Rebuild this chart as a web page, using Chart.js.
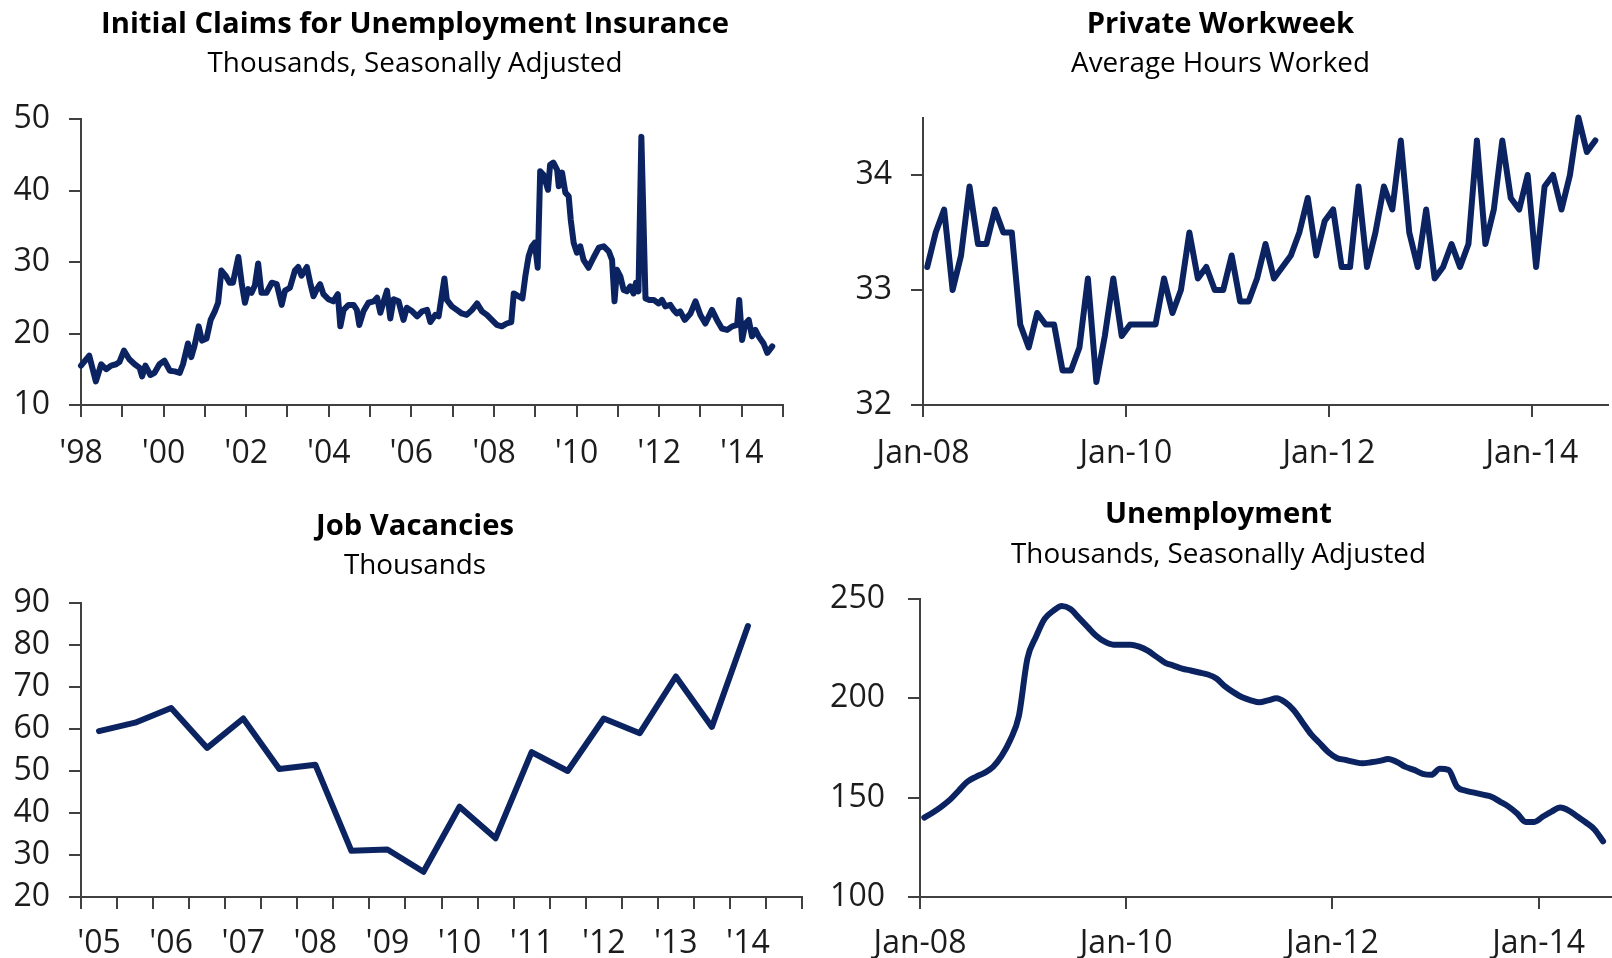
<!DOCTYPE html>
<html>
<head>
<meta charset="utf-8">
<title>Labour market indicators</title>
<script src="https://cdn.jsdelivr.net/npm/chart.js@4.4.1/dist/chart.umd.min.js"></script>
<style>
  html, body { margin: 0; padding: 0; background: #fff; overflow: hidden; width: 1612px; height: 958px; }
  .panel { position: absolute; }
</style>
</head>
<body>
<div class="panel" style="left:0;top:0"><canvas id="claims" width="806" height="479"></canvas></div>
<div class="panel" style="left:806px;top:0"><canvas id="workweek" width="806" height="479"></canvas></div>
<div class="panel" style="left:0;top:479px"><canvas id="vacancies" width="806" height="479"></canvas></div>
<div class="panel" style="left:806px;top:479px"><canvas id="unemployment" width="812" height="479"></canvas></div>
<script>
// Initial claims, thousands (readings taken along the weekly series)
var claimsYear = [
  1998.00, 1998.20, 1998.36, 1998.49, 1998.61, 1998.73, 1998.85, 1998.93, 1999.04, 1999.17,
  1999.30, 1999.42, 1999.48, 1999.56, 1999.68, 1999.78, 1999.90, 2000.02, 2000.15, 2000.27,
  2000.39, 2000.47, 2000.59, 2000.67, 2000.75, 2000.85, 2000.93, 2001.04, 2001.14, 2001.24,
  2001.32, 2001.40, 2001.50, 2001.60, 2001.68, 2001.81, 2001.89, 2001.97, 2002.05, 2002.13,
  2002.21, 2002.29, 2002.37, 2002.49, 2002.62, 2002.74, 2002.86, 2002.94, 2003.06, 2003.18,
  2003.26, 2003.34, 2003.47, 2003.55, 2003.63, 2003.71, 2003.79, 2003.87, 2003.99, 2004.11,
  2004.22, 2004.28, 2004.36, 2004.48, 2004.60, 2004.68, 2004.74, 2004.84, 2004.96, 2005.09,
  2005.17, 2005.25, 2005.33, 2005.41, 2005.49, 2005.57, 2005.69, 2005.81, 2005.89, 2006.02,
  2006.14, 2006.26, 2006.38, 2006.46, 2006.58, 2006.66, 2006.80, 2006.86, 2006.98, 2007.10,
  2007.22, 2007.34, 2007.47, 2007.59, 2007.71, 2007.83, 2007.95, 2008.07, 2008.19, 2008.31,
  2008.42, 2008.48, 2008.60, 2008.69, 2008.76, 2008.84, 2008.92, 2008.99, 2009.06, 2009.12,
  2009.20, 2009.31, 2009.36, 2009.44, 2009.53, 2009.57, 2009.65, 2009.73, 2009.81, 2009.86,
  2009.93, 2010.01, 2010.09, 2010.17, 2010.29, 2010.41, 2010.54, 2010.66, 2010.78, 2010.86,
  2010.92, 2010.98, 2011.06, 2011.14, 2011.22, 2011.30, 2011.38, 2011.44, 2011.50, 2011.57,
  2011.67, 2011.76, 2011.87, 2011.99, 2012.07, 2012.15, 2012.27, 2012.35, 2012.43, 2012.51,
  2012.62, 2012.76, 2012.88, 2013.00, 2013.12, 2013.28, 2013.40, 2013.52, 2013.65, 2013.77,
  2013.89, 2013.94, 2014.01, 2014.09, 2014.17, 2014.25, 2014.33, 2014.41, 2014.53, 2014.62,
  2014.74
];
var claimsValue = [
  15.5, 16.9, 13.3, 15.7, 15.0, 15.5, 15.7, 16.0, 17.6, 16.4,
  15.7, 15.2, 14.0, 15.5, 14.2, 14.5, 15.7, 16.2, 14.8, 14.7,
  14.5, 15.7, 18.6, 16.7, 18.3, 21.0, 19.0, 19.3, 21.9, 23.1,
  24.3, 28.8, 28.1, 27.1, 27.1, 30.7, 27.1, 24.3, 26.2, 25.7,
  26.7, 29.8, 25.7, 25.7, 27.1, 26.9, 24.0, 26.0, 26.4, 28.8,
  29.3, 28.1, 29.3, 27.1, 25.2, 26.2, 26.9, 25.5, 24.8, 24.5,
  25.5, 21.0, 23.3, 24.0, 24.0, 23.3, 21.2, 23.1, 24.3, 24.5,
  25.0, 22.9, 24.5, 26.0, 22.1, 24.8, 24.5, 21.9, 23.6, 23.1,
  22.4, 23.1, 23.3, 21.6, 22.6, 22.4, 27.7, 24.7, 23.8, 23.3,
  22.8, 22.6, 23.3, 24.2, 23.1, 22.6, 21.9, 21.2, 21.0, 21.4,
  21.6, 25.6, 25.2, 24.9, 28.0, 30.8, 32.2, 32.7, 29.2, 42.7,
  42.2, 40.1, 43.6, 43.9, 42.9, 40.6, 42.5, 39.7, 39.2, 35.9,
  32.7, 31.3, 32.2, 30.3, 29.2, 30.6, 32.0, 32.2, 31.5, 30.3,
  24.5, 28.9, 28.0, 26.1, 25.9, 26.6, 25.6, 27.1, 25.9, 47.5,
  24.9, 24.7, 24.7, 24.2, 24.7, 23.8, 24.0, 23.3, 22.8, 23.1,
  21.9, 22.8, 24.5, 22.6, 21.4, 23.3, 21.9, 20.7, 20.5, 21.0,
  21.2, 24.7, 19.1, 21.4, 21.9, 19.6, 20.5, 19.6, 18.6, 17.3,
  18.2
];
var claimsTickLabels = ["'98", "'00", "'02", "'04", "'06", "'08", "'10", "'12", "'14"];

// Private workweek, average hours, monthly from Jan-08
var workweekHours = [
  33.2, 33.5, 33.7, 33.0, 33.3, 33.9, 33.4, 33.4, 33.7, 33.5,
  33.5, 32.7, 32.5, 32.8, 32.7, 32.7, 32.3, 32.3, 32.5, 33.1,
  32.2, 32.6, 33.1, 32.6, 32.7, 32.7, 32.7, 32.7, 33.1, 32.8,
  33.0, 33.5, 33.1, 33.2, 33.0, 33.0, 33.3, 32.9, 32.9, 33.1,
  33.4, 33.1, 33.2, 33.3, 33.5, 33.8, 33.3, 33.6, 33.7, 33.2,
  33.2, 33.9, 33.2, 33.5, 33.9, 33.7, 34.3, 33.5, 33.2, 33.7,
  33.1, 33.2, 33.4, 33.2, 33.4, 34.3, 33.4, 33.7, 34.3, 33.8,
  33.7, 34.0, 33.2, 33.9, 34.0, 33.7, 34.0, 34.5, 34.2, 34.3
];

// Job vacancies, thousands, half-yearly
var vacancyPeriods = [
  '2005 H1', '2005 H2', '2006 H1', '2006 H2', '2007 H1', '2007 H2', '2008 H1', '2008 H2',
  '2009 H1', '2009 H2', '2010 H1', '2010 H2', '2011 H1', '2011 H2', '2012 H1', '2012 H2',
  '2013 H1', '2013 H2', '2014 H1', '2014 H2'
];
var vacancyValues = [
  59.5, 61.5, 65.0, 55.5, 62.5, 50.5, 51.5, 31.0, 31.3, 26.0,
  41.5, 34.0, 54.5, 50.0, 62.5, 59.0, 72.5, 60.5, 84.5
];
var vacancyTickLabels = ["'05", "'06", "'07", "'08", "'09", "'10", "'11", "'12", "'13", "'14"];

// Unemployment, thousands, monthly from Jan-08
var unemployment = [
  140, 142.5, 145.5, 149, 153.5, 158, 160.5, 162.5, 165.5, 171,
  179, 191, 220, 231, 240, 244, 246.5, 245, 240.5, 236,
  231.5, 228.5, 227, 227, 227, 226, 224, 221, 218, 216.5,
  215, 214, 213, 212, 210, 206, 203, 200.5, 199, 198,
  199, 200, 198, 194, 188, 182, 177.5, 173, 170, 169,
  168, 167.3, 167.8, 168.5, 169.5, 168, 165.5, 164, 162, 161.5,
  164.5, 164, 155.5, 153.5, 152.5, 151.5, 150.5, 148, 145.5, 142,
  137.8, 137.8, 140.5, 143, 145, 143.5, 140.5, 137.5, 134, 128
];
var monthTickLabels = ['Jan-08', 'Jan-10', 'Jan-12', 'Jan-14'];

var LINE = '#0b2461';
var AXIS = '#404040';
var TEXT = '#1c1c1c';
var FONT = "'Open Sans', 'Noto Sans', sans-serif";
var TITLE_SIZE = 29.2;
var SUB_SIZE = 27.8;
var TICK_SIZE = 32;

var tickFont = { family: FONT, size: TICK_SIZE, lineHeight: 1 };

// monthly series sit mid-month on a "months since Jan-08" axis
var monthly = function (values) {
    return values.map(function (v, i) {
        return { x: i + 0.5, y: v };
    });
};

// title + subtitle, centred over the panel rather than the plot area
var headingPlugin = {
    id: 'headings',
    afterDraw: function (chart, args, opts) {
        var ctx = chart.ctx;
        ctx.save();
        ctx.fillStyle = '#000';
        ctx.textAlign = 'center';
        ctx.textBaseline = 'middle';
        ctx.font = 'bold ' + TITLE_SIZE + 'px ' + FONT;
        ctx.fillText(opts.title, opts.x, opts.titleY);
        ctx.font = SUB_SIZE + 'px ' + FONT;
        ctx.fillText(opts.subtitle, opts.x, opts.subY);
        ctx.restore();
    }
};

var yScale = function (o) {
    return {
        min: o.min, max: o.max,
        border: { display: true, color: AXIS, width: 2 },
        grid: { drawOnChartArea: false, drawTicks: true, tickLength: 12, color: AXIS, lineWidth: 2 },
        ticks: { stepSize: o.step, padding: o.pad, color: TEXT, font: tickFont },
        afterBuildTicks: function (s) {
            s.ticks = s.ticks.filter(function (t) { return Number.isInteger(t.value); });
        },
        afterFit: function (s) { s.width = o.width; }
    };
};

var xScale = function (o) {
    var sc = {
        type: o.type || 'linear',
        border: { display: true, color: AXIS, width: 2 },
        grid: { drawOnChartArea: false, drawTicks: true, tickLength: 12, color: AXIS, lineWidth: 2, offset: !!o.offset },
        ticks: {
            padding: o.pad, color: TEXT, font: tickFont,
            autoSkip: false, maxRotation: 0, minRotation: 0,
            callback: o.label
        },
        afterFit: function (s) { s.height = o.height; }
    };
    if (sc.type === 'linear') {
        sc.min = o.min;
        sc.max = o.max;
        sc.ticks.stepSize = o.step;
        if (o.keep) {
            sc.afterBuildTicks = function (s) { s.ticks = s.ticks.filter(o.keep); };
        }
    } else {
        sc.offset = true;
    }
    return sc;
};

var panel = function (id, cfg) {
    return new Chart(document.getElementById(id).getContext('2d'), {
        type: 'line',
        data: {
            labels: cfg.labels,
            datasets: [{
                data: cfg.data,
                borderColor: LINE,
                borderWidth: 6,
                pointRadius: 0,
                fill: false,
                tension: cfg.tension || 0,
                cubicInterpolationMode: cfg.tension ? 'monotone' : 'default',
                borderJoinStyle: 'round',
                borderCapStyle: 'round',
                clip: false
            }]
        },
        options: {
            responsive: false,
            animation: false,
            devicePixelRatio: 1,
            events: [],
            layout: { padding: cfg.padding },
            plugins: {
                legend: { display: false },
                tooltip: { enabled: false },
                headings: cfg.headings
            },
            scales: { x: cfg.x, y: cfg.y }
        },
        plugins: [headingPlugin]
    });
};

panel('claims', {
    headings: { title: 'Initial Claims for Unemployment Insurance', subtitle: 'Thousands, Seasonally Adjusted', x: 415, titleY: 25, subY: 64 },
    padding: { left: 0, right: 23, top: 119, bottom: 0 },
    data: claimsYear.map(function (yr, i) { return { x: yr, y: claimsValue[i] }; }),
    x: xScale({
        min: 1998, max: 2015, step: 1, height: 74, pad: 21,
        label: function (v) {
            return (v % 2 === 0 && v < 2015) ? claimsTickLabels[(v - 1998) / 2] : '';
        }
    }),
    y: yScale({ min: 10, max: 50, step: 10, pad: 19, width: 81 })
});

panel('workweek', {
    headings: { title: 'Private Workweek', subtitle: 'Average Hours Worked', x: 414.5, titleY: 25, subY: 64 },
    padding: { left: 0, right: 4, top: 117.5, bottom: 0 },
    data: monthly(workweekHours),
    x: xScale({
        min: 0, max: 81, step: 24, height: 74, pad: 21,
        keep: function (t) { return t.value % 24 === 0; },
        label: function (v) { return monthTickLabels[v / 24]; }
    }),
    y: yScale({ min: 32, max: 34.5, step: 1, pad: 19, width: 117 })
});

panel('vacancies', {
    headings: { title: 'Job Vacancies', subtitle: 'Thousands', x: 415, titleY: 48, subY: 87 },
    padding: { left: 0, right: 4, top: 124, bottom: 0 },
    labels: vacancyPeriods,
    data: vacancyValues,
    x: xScale({
        type: 'category', offset: true, height: 61, pad: 19,
        label: function (v, i) { return i % 2 === 0 ? vacancyTickLabels[i / 2] : ''; }
    }),
    y: yScale({ min: 20, max: 90, step: 10, pad: 19, width: 81 })
});

panel('unemployment', {
    headings: { title: 'Unemployment', subtitle: 'Thousands, Seasonally Adjusted', x: 412.5, titleY: 36, subY: 76 },
    padding: { left: 0, right: 2, top: 120, bottom: 0 },
    data: monthly(unemployment),
    tension: 0.4,
    x: xScale({
        min: 0, max: 81, step: 24, height: 61, pad: 19,
        keep: function (t) { return t.value % 24 === 0; },
        label: function (v) { return monthTickLabels[v / 24]; }
    }),
    y: yScale({ min: 100, max: 250, step: 50, pad: 23, width: 114 })
});
</script>
</body>
</html>
